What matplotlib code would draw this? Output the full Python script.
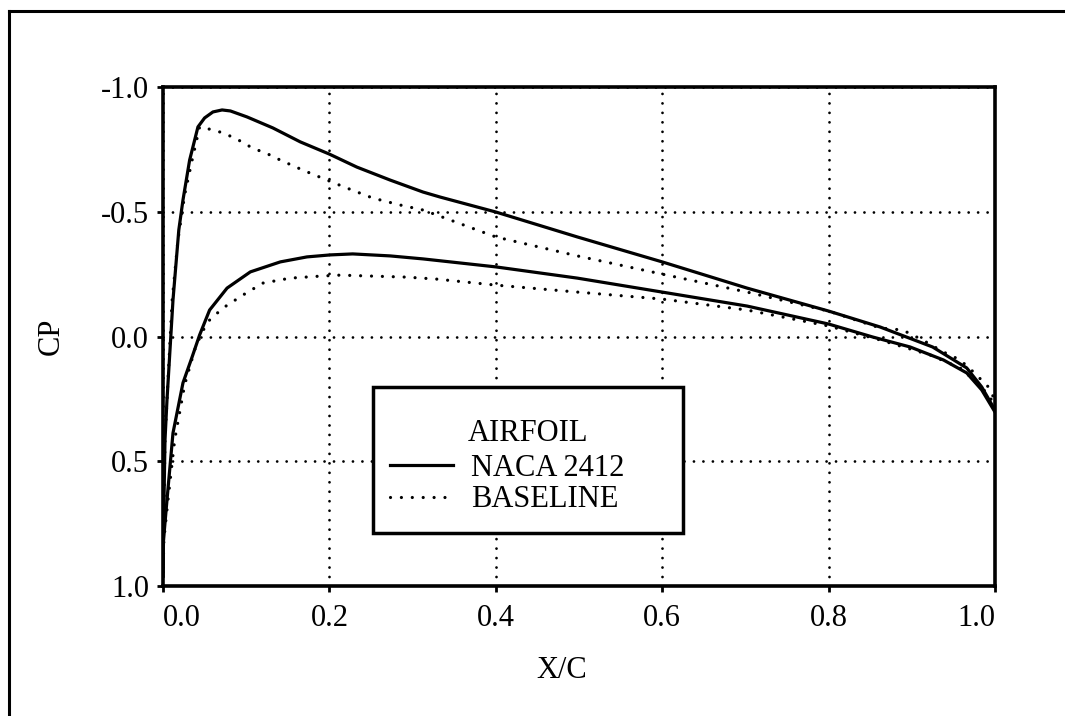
import matplotlib
matplotlib.use("Agg")
import matplotlib.pyplot as plt
from matplotlib.lines import Line2D
from matplotlib.patches import Rectangle

plt.rcParams['font.family'] = ['Liberation Serif', 'DejaVu Serif']
plt.rcParams['axes.unicode_minus'] = False

# === Donnees (X/C, CP) ===
# NACA 2412 - extrados
x_naca_up = [0.000, 0.0012, 0.0024, 0.0048, 0.012, 0.019, 0.024, 0.032, 0.042, 0.050,
             0.060, 0.071, 0.081, 0.101, 0.132, 0.165, 0.200, 0.233, 0.273, 0.3125,
             0.333, 0.400, 0.498, 0.600, 0.702, 0.800, 0.862, 0.925, 0.966, 0.984, 1.000]
cp_naca_up = [0.944, 0.655, 0.415, 0.254, -0.146, -0.427, -0.547, -0.707, -0.840, -0.876,
              -0.900, -0.908, -0.904, -0.880, -0.836, -0.780, -0.731, -0.679, -0.627, -0.579,
              -0.559, -0.499, -0.399, -0.299, -0.194, -0.102, -0.038, 0.042, 0.126, 0.202, 0.295]

# NACA 2412 - intrados
x_naca_lo = [0.000, 0.0006, 0.0048, 0.012, 0.024, 0.035, 0.044, 0.056, 0.077, 0.105,
             0.141, 0.173, 0.201, 0.228, 0.273, 0.3125, 0.400, 0.498, 0.600, 0.702,
             0.800, 0.853, 0.898, 0.938, 0.966, 0.984, 1.000]
cp_naca_lo = [0.956, 0.816, 0.655, 0.387, 0.186, 0.082, -0.006, -0.106, -0.194, -0.259,
              -0.299, -0.319, -0.327, -0.331, -0.323, -0.311, -0.279, -0.234, -0.178, -0.122,
              -0.050, 0.002, 0.042, 0.094, 0.146, 0.214, 0.303]

# Baseline - extrados
x_base_up = [0.000, 0.0024, 0.006, 0.011, 0.018, 0.026, 0.035, 0.044, 0.060, 0.072,
             0.083, 0.095, 0.105, 0.117, 0.129, 0.141, 0.168, 0.197, 0.221, 0.252,
             0.285, 0.3125, 0.329, 0.400, 0.498, 0.600, 0.702, 0.800, 0.862, 0.889,
             0.913, 0.938, 0.958, 0.974, 0.992, 1.000]
cp_base_up = [0.944, 0.415, 0.174, -0.146, -0.387, -0.567, -0.707, -0.840, -0.828, -0.816,
              -0.800, -0.780, -0.760, -0.743, -0.727, -0.707, -0.667, -0.627, -0.595, -0.555,
              -0.527, -0.507, -0.487, -0.399, -0.323, -0.250, -0.178, -0.102, -0.034, -0.026,
              0.014, 0.062, 0.094, 0.142, 0.202, 0.255]

# Baseline - intrados
x_base_lo = [0.000, 0.001, 0.006, 0.014, 0.026, 0.038, 0.047, 0.056, 0.072, 0.096,
             0.120, 0.153, 0.189, 0.213, 0.252, 0.293, 0.329, 0.400, 0.498, 0.600,
             0.702, 0.800, 0.862, 0.922, 0.958, 0.982, 0.998]
cp_base_lo = [0.956, 0.816, 0.655, 0.415, 0.194, 0.054, -0.018, -0.066, -0.114, -0.166,
              -0.214, -0.234, -0.242, -0.246, -0.242, -0.238, -0.230, -0.206, -0.178, -0.150,
              -0.106, -0.042, 0.014, 0.074, 0.126, 0.194, 0.263]

x_ticks = [0.0, 0.2, 0.4, 0.6, 0.8, 1.0]
y_ticks = [-1.0, -0.5, 0.0, 0.5, 1.0]
legend_labels = ["NACA 2412", "BASELINE"]
legend_title = "AIRFOIL"

# === Figure ===
W, H = 1065, 716
fs = 22
fig = plt.figure(figsize=(W / 100, H / 100), dpi=100)
ax = fig.add_axes([163 / W, 1 - 586 / H, 832 / W, 499 / H])

dots = (0, (0.01, 3.4))
lw = 2.3

ax.plot(x_naca_up, cp_naca_up, color="black", lw=lw, zorder=3)
ax.plot(x_naca_lo, cp_naca_lo, color="black", lw=lw, zorder=3)
ax.plot(x_base_up, cp_base_up, color="black", lw=lw, ls=dots, dash_capstyle="round", zorder=3)
ax.plot(x_base_lo, cp_base_lo, color="black", lw=lw, ls=dots, dash_capstyle="round", zorder=3)

ax.set_xlim(0, 1)
ax.set_ylim(1, -1)
ax.set_xticks(x_ticks)
ax.set_yticks(y_ticks)
ax.set_xticklabels([f"{v:.1f}" for v in x_ticks])
ax.set_yticklabels([f"{v:.1f}" for v in y_ticks])
ax.tick_params(direction="out", length=4, width=2, labelsize=fs, pad=6, colors="black")
ax.tick_params(axis="x", pad=9)
# premiers / derniers labels decales vers l'interieur comme sur l'original
xlabs = ax.get_xticklabels()
xlabs[0].set_ha("left")
xlabs[-1].set_ha("right")

ax.grid(True, color="black", lw=2.0, ls=dots, dash_capstyle="round", zorder=1)
ax.set_axisbelow(True)

for s in ax.spines.values():
    s.set_linewidth(2.6)

ax.set_xlabel("X/C", fontsize=fs, va="center")
ax.xaxis.set_label_coords((562 - 163) / 832, (586 - 670) / 499)
ax.set_ylabel("CP", fontsize=fs, va="center")
ax.yaxis.set_label_coords((51 - 163) / 832, 0.5)

# --- cadre de legende ---
box = Rectangle(((373 - 163) / 832, (586 - 533) / 499), 310 / 832, 146 / 499,
                transform=ax.transAxes, facecolor="white", edgecolor="black",
                lw=2.5, zorder=4)
ax.add_patch(box)
ax.text((528 - 163) / 832, (586 - 433) / 499, legend_title, transform=ax.transAxes,
        ha="center", va="center", fontsize=fs, zorder=5)

handles = [Line2D([], [], color="black", lw=lw),
           Line2D([], [], color="black", lw=lw, ls=dots, dash_capstyle="round")]
leg = ax.legend(handles, legend_labels, loc="center left",
                bbox_to_anchor=((390 - 163) / 832, (586 - 484) / 499),
                frameon=False, borderpad=0, borderaxespad=0, fontsize=fs,
                handlelength=2.05, handletextpad=0.6, labelspacing=0.08)
leg.set_zorder(6)

# --- cadre exterieur ---
fig.add_artist(Line2D([9 / W, 9 / W], [0, 1 - 11 / H], transform=fig.transFigure,
                      color="black", lw=2.2))
fig.add_artist(Line2D([9 / W, 1], [1 - 11 / H, 1 - 11 / H], transform=fig.transFigure,
                      color="black", lw=2.2))

fig.savefig("out.png", dpi=100)
